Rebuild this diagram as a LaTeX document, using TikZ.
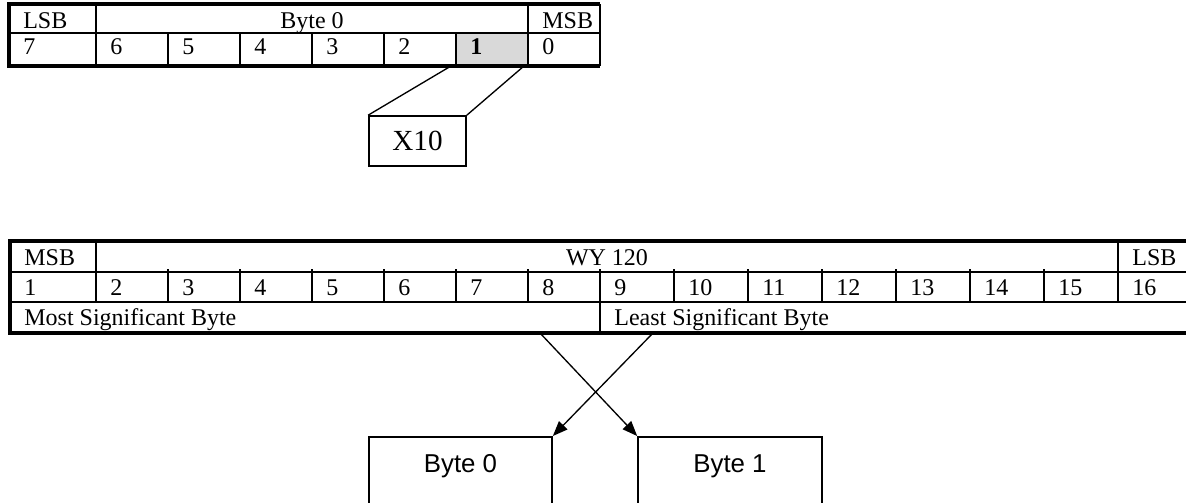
\documentclass[tikz,border=0pt]{standalone}
\usepackage{fontspec}
\setmainfont{Liberation Serif}
\newfontfamily\arialfont{Liberation Sans}
\usetikzlibrary{arrows.meta}

\begin{document}
\begin{tikzpicture}[x=0.6pt,y=-0.6pt]
        \tikzstyle{thick rule}=[line width=2pt]
        \tikzstyle{thin rule}=[line width=0.8pt]
        \tikzstyle{cell}=[anchor=base west,inner sep=0pt,font=\fontsize{14.4}{17}\selectfont]
        \tikzstyle{box}=[draw,line width=1pt,inner sep=0pt]
        \tikzstyle{link}=[line width=0.8pt]
        \useasboundingbox (0,0) rectangle (1186,502);
        \clip (0,0) rectangle (1186,502);
        % top table, bit 1 of byte 0
        \fill[black!15] (456,33) rectangle (528,66);
        \draw[thin rule] (9,33) -- (600,33) (96,4) -- (96,66) (528,4) -- (528,66) (600,4) -- (600,66);
        \foreach \x in {168,240,...,456} \draw[thin rule] (\x,33) -- (\x,66);
        \draw[thick rule] (600,4) -- (9,4) -- (9,66) -- (600,66);
        \node[cell] (toplsb) at (23,28) {LSB};
        \node[cell,anchor=base] (topbyte) at (312,28) {Byte 0};
        \node[cell] (topmsb) at (542,28) {MSB};
        \node[cell] (bit7) at (23,54) {7};
        \foreach \b in {6,5,4,3,2,0} \node[cell] (bit\b) at ({542-72*\b},54) {\b};
        \node[cell] (bit1) at (470,54) {\textbf{1}};
        \node[box,minimum width=58.2pt,minimum height=30pt,font=\fontsize{17.5}{20}\selectfont] (xten) at (417.5,141) {X10};
        \coordinate (bitleft) at (451,66);
        \coordinate (bitright) at (524,66);
        \draw[link] (bitleft) -- (xten.north west);
        \draw[link] (bitright) -- (xten.north east);
        % second table, WY 120
        \draw[thin rule] (10,272) -- (1200,272) (10,302) -- (1200,302) (96,241) -- (96,302) (1118,241) -- (1118,302) (600,269) -- (600,333);
        \foreach \x in {168,240,...,528} \draw[thin rule] (\x,269) -- (\x,302);
        \foreach \x in {674,748,...,1044} \draw[thin rule] (\x,269) -- (\x,302);
        \draw[thick rule] (1200,241) -- (10,241) -- (10,333) -- (1200,333);
        \node[cell] (wymsb) at (24,265) {MSB};
        \node[cell,anchor=base] (wyname) at (607,265) {WY 120};
        \node[cell] (wylsb) at (1132,265) {LSB};
        \node[cell] (pos1) at (24,295) {1};
        \foreach \n in {2,...,8} \node[cell] (pos\n) at ({72*\n-34},295) {\n};
        \foreach \n in {9,...,16} \node[cell] (pos\n) at ({74*\n-52},295) {\n};
        \node[cell] (msbyte) at (24,325) {Most Significant Byte};
        \node[cell] (lsbyte) at (614,325) {Least Significant Byte};
        \node[box,anchor=north,minimum width=109.8pt,text height=21.6pt,text depth=26pt,font=\arialfont\fontsize{15.5}{18}\selectfont] (bytezero) at (460.5,436) {Byte 0};
        \node[box,anchor=north,minimum width=110.4pt,text height=21.6pt,text depth=26pt,font=\arialfont\fontsize{15.5}{18}\selectfont] (byteone) at (730,436) {Byte 1};
        \coordinate (msbfoot) at (540,333);
        \coordinate (lsbfoot) at (653,333);
        \draw[link,-{Triangle[length=9pt,width=7pt]}] (msbfoot) -- (byteone.north west);
        \draw[link,-{Triangle[length=9pt,width=7pt]}] (lsbfoot) -- (bytezero.north east);
    \end{tikzpicture}
\end{document}
